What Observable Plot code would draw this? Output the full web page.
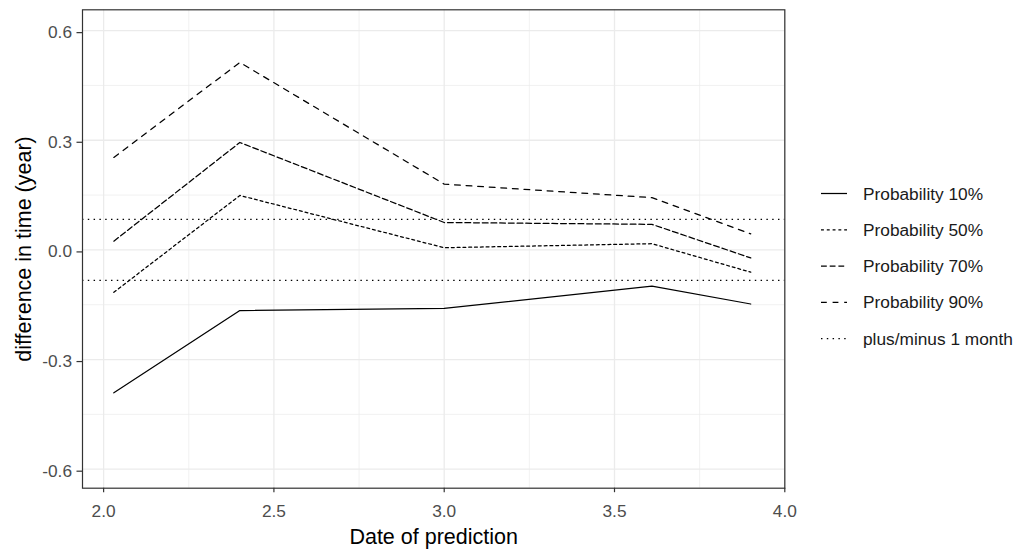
<!DOCTYPE html>
<html><head><meta charset="utf-8">
<script src="https://cdn.jsdelivr.net/npm/d3@7"></script>
<script src="https://cdn.jsdelivr.net/npm/@observablehq/plot@0.6"></script>
<style>
body{margin:0;background:#fff;}
#wrap{position:relative;width:1033px;height:550px;font-family:"Liberation Sans",Arial,sans-serif;}
#legend{position:absolute;left:800px;top:0;}
[aria-label="x-axis label"] text,[aria-label="y-axis label"] text{font-size:21.5px;fill:#000;}
</style></head><body><div id="wrap"></div>
<script>
// ---- data ----
const predictionDates = [2.03, 2.40, 3.00, 3.61, 3.90];
const seriesNames = ["Probability 10%", "Probability 50%", "Probability 70%", "Probability 90%"];
const prob10 = [-0.391, -0.166, -0.160, -0.099, -0.148];
const prob50 = [-0.116, 0.149, 0.006, 0.017, -0.061];
const prob70 = [0.024, 0.294, 0.075, 0.070, -0.022];
const prob90 = [0.253, 0.513, 0.180, 0.143, 0.044];
const monthLimits = [-0.0833, 0.0833];
const monthName = "plus/minus 1 month";
const xTicks = [2.0, 2.5, 3.0, 3.5, 4.0];
const xMinor = [2.25, 2.75, 3.25, 3.75];
const yTicks = [-0.6, -0.3, 0.0, 0.3, 0.6];
const yMinor = [-0.45, -0.15, 0.15, 0.45];

// ---- styles ----
const seriesDash = [null, "2.9,2.9", "5.8,2.9", "5.8,5.8"];
const monthDash = "1.45,4.35";
const seriesValues = [prob10, prob50, prob70, prob90];
const lw = 1.25;

const rows = seriesNames.flatMap((name, s) =>
  predictionDates.map((x, i) => ({series: name, x, y: seriesValues[s][i]})));

const fmt = d => d.toFixed(1);

const chart = Plot.plot({
  width: 1033, height: 550,
  marginLeft: 82, marginRight: 248.7, marginTop: 9.3, marginBottom: 62.3,
  style: {fontFamily: '"Liberation Sans", Arial, sans-serif', background: "#fff"},
  x: {domain: [1.938, 4.0]},
  y: {domain: [-0.652, 0.657]},
  marks: [
    Plot.gridX(xMinor, {stroke: "#EBEBEB", strokeOpacity: 1, strokeWidth: 0.7}),
    Plot.gridY(yMinor, {stroke: "#EBEBEB", strokeOpacity: 1, strokeWidth: 0.7}),
    Plot.gridX(xTicks, {stroke: "#EBEBEB", strokeOpacity: 1, strokeWidth: 1.3}),
    Plot.gridY(yTicks, {stroke: "#EBEBEB", strokeOpacity: 1, strokeWidth: 1.3}),
    Plot.axisX(xTicks, {tickSize: 4.5, tickPadding: 12, tickFormat: fmt, fontSize: 17.3,
      stroke: "#333333", fill: "#4D4D4D", strokeWidth: 1.2,
      label: "Date of prediction", labelAnchor: "center", labelOffset: 56, labelArrow: "none"}),
    Plot.axisY(yTicks, {tickSize: 5.5, tickPadding: 5, tickFormat: fmt, fontSize: 17.3, dy: 2,
      stroke: "#333333", fill: "#4D4D4D", strokeWidth: 1.2,
      label: "difference in time (year)", labelAnchor: "center", labelOffset: 67, labelArrow: "none"}),
    ...seriesNames.map((name, s) => Plot.line(rows.filter(r => r.series === name), {
      x: "x", y: "y", stroke: "#000", strokeWidth: lw,
      strokeDasharray: seriesDash[s] ?? undefined
    })),
    Plot.ruleY(monthLimits, {stroke: "#000", strokeWidth: lw, strokeDasharray: monthDash}),
    Plot.frame({stroke: "#333333", strokeWidth: 1.2})
  ]
});
document.getElementById("wrap").append(chart);

// ---- legend (linetype) ----
const legendItems = seriesNames.map((n, i) => ({name: n, dash: seriesDash[i]}))
  .concat([{name: monthName, dash: monthDash}]);
const lg = d3.select("#wrap").append("svg").attr("id", "legend")
  .attr("width", 233).attr("height", 550);
const row = lg.selectAll("g").data(legendItems).join("g")
  .attr("transform", (d, i) => `translate(0,${193.5 + i * 36.3})`);
row.append("line").attr("x1", 21).attr("x2", 47).attr("y1", 0).attr("y2", 0)
  .attr("stroke", "#000").attr("stroke-width", lw)
  .attr("stroke-dasharray", d => d.dash);
row.append("text").attr("x", 63).attr("dy", "0.35em")
  .attr("font-size", 17.3).attr("fill", "#1a1a1a")
  .attr("font-family", '"Liberation Sans", Arial, sans-serif')
  .text(d => d.name);
</script></body></html>
